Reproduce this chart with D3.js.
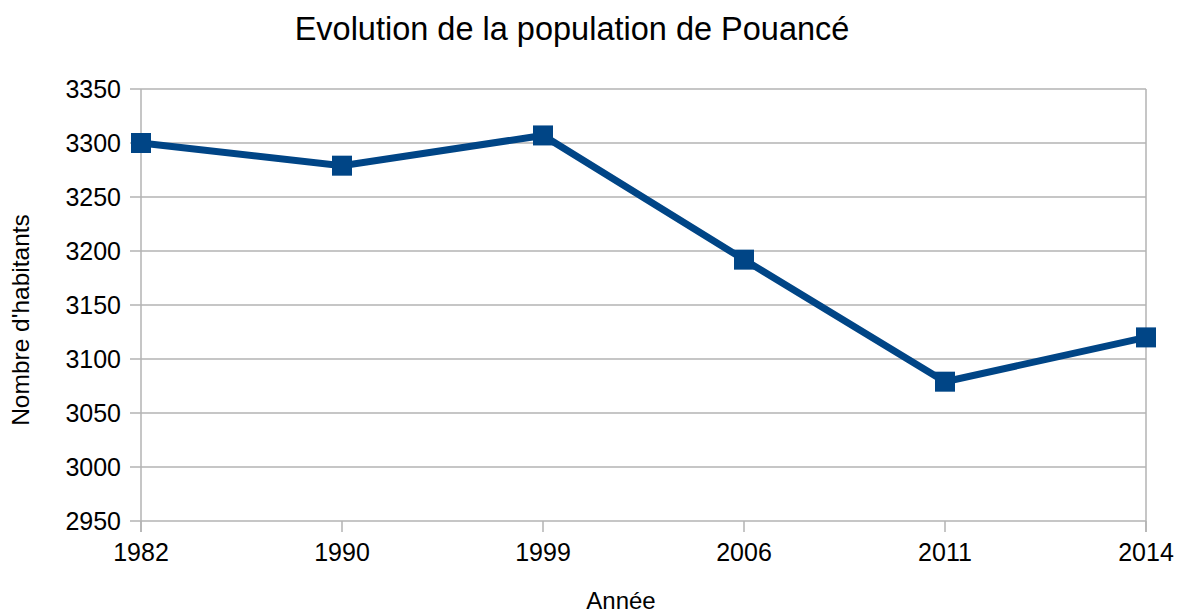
<!DOCTYPE html>
<html>
<head>
<meta charset="utf-8">
<script src="https://cdn.jsdelivr.net/npm/d3@7"></script>
<style>
  body { margin: 0; background: #fff; }
  text { font-family: "Liberation Sans", Arial, sans-serif; fill: #000; }
</style>
</head>
<body>
<svg id="chart"></svg>
<script>
// data
var years = ["1982", "1990", "1999", "2006", "2011", "2014"];
var population = [3300, 3279, 3307, 3192, 3079, 3120];
var yTicks = [2950, 3000, 3050, 3100, 3150, 3200, 3250, 3300, 3350];

var width = 1177, height = 613;
var margin = { top: 89, right: 30, bottom: 92, left: 141 };
var innerW = 1146 - margin.left,
    innerH = height - margin.top - margin.bottom;

var svg = d3.select("#chart").attr("width", width).attr("height", height);
var g = svg.append("g").attr("transform", "translate(" + margin.left + "," + margin.top + ")");

var x = d3.scalePoint().domain(years).range([0, innerW]);
var y = d3.scaleLinear().domain([2950, 3350]).range([innerH, 0]);

// horizontal grid lines (they stick out left as tick marks)
g.selectAll(".grid")
    .data(yTicks)
    .enter().append("line")
    .attr("x1", -11).attr("x2", innerW)
    .attr("y1", function (d) { return y(d); })
    .attr("y2", function (d) { return y(d); })
    .attr("stroke", "#b3b3b3").attr("stroke-width", 1.5);

// left axis + right border
g.append("line").attr("x1", 0).attr("x2", 0).attr("y1", 0).attr("y2", innerH + 11)
    .attr("stroke", "#b3b3b3").attr("stroke-width", 1.5);
g.append("line").attr("x1", innerW).attr("x2", innerW).attr("y1", 0).attr("y2", innerH + 11)
    .attr("stroke", "#b3b3b3").attr("stroke-width", 1.5);

// x ticks
g.selectAll(".xtick")
    .data(years)
    .enter().append("line")
    .attr("x1", function (d) { return x(d); })
    .attr("x2", function (d) { return x(d); })
    .attr("y1", innerH).attr("y2", innerH + 11)
    .attr("stroke", "#b3b3b3").attr("stroke-width", 1.5);

// y tick labels
g.selectAll(".ylabel")
    .data(yTicks)
    .enter().append("text")
    .attr("x", -20)
    .attr("y", function (d) { return y(d); })
    .attr("dy", "0.36em")
    .attr("text-anchor", "end")
    .style("font-size", "25px")
    .text(function (d) { return d; });

// x tick labels
g.selectAll(".xlabel")
    .data(years)
    .enter().append("text")
    .attr("x", function (d) { return x(d); })
    .attr("y", innerH + 40)
    .attr("text-anchor", "middle")
    .style("font-size", "25px")
    .text(function (d) { return d; });

// line
var line = d3.line()
    .x(function (d, i) { return x(years[i]); })
    .y(function (d) { return y(d); });

g.append("path")
    .datum(population)
    .attr("d", line)
    .attr("fill", "none")
    .attr("stroke", "#004586")
    .attr("stroke-width", 7);

// markers
g.selectAll(".marker")
    .data(population)
    .enter().append("rect")
    .attr("x", function (d, i) { return x(years[i]) - 10; })
    .attr("y", function (d) { return y(d) - 10; })
    .attr("width", 20).attr("height", 20)
    .attr("fill", "#004586");

// title
svg.append("text")
    .attr("x", 572).attr("y", 40)
    .attr("text-anchor", "middle")
    .style("font-size", "32.5px")
    .text("Evolution de la population de Pouancé");

// axis titles
svg.append("text")
    .attr("x", 621).attr("y", 609)
    .attr("text-anchor", "middle")
    .style("font-size", "24px")
    .text("Année");

svg.append("text")
    .attr("transform", "translate(29,320) rotate(-90)")
    .attr("text-anchor", "middle")
    .style("font-size", "24.5px")
    .text("Nombre d'habitants");
</script>
</body>
</html>
